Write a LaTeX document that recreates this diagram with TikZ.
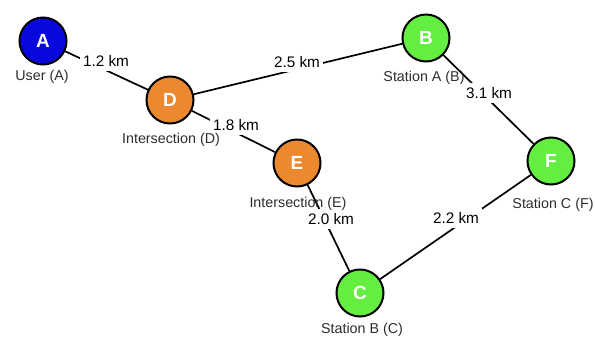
\documentclass[tikz,border=0pt]{standalone}
\usepackage{fontspec}
\setmainfont{Liberation Sans}
\definecolor{nblue}{RGB}{8,8,222}
\definecolor{norange}{RGB}{236,136,48}
\definecolor{ngreen}{RGB}{100,238,66}
\definecolor{ltext}{RGB}{45,45,45}
\tikzset{
  vert/.style={circle, draw=black, line width=2pt, minimum size=47pt, inner sep=0pt,
    text=white, font=\fontsize{19}{19}\selectfont\bfseries},
  vlabel/.style={text=ltext, font=\fontsize{14.3}{15}\selectfont, inner sep=1pt},
  elabel/.style={fill=white, text=black, font=\fontsize{15.3}{16}\selectfont, inner xsep=3pt, inner ysep=4.5pt},
  road/.style={line width=1.7pt, black}
}
\begin{document}
\begin{tikzpicture}[x=1pt,y=-1pt]
\useasboundingbox[fill=white] (0,0) rectangle (595,339);
\node[vert, fill=nblue]   (A) at (43,41)  {A};
\node[vert, fill=norange] (D) at (170,100) {D};
\node[vert, fill=ngreen]  (B) at (426,38) {B};
\node[vert, fill=norange] (E) at (297,163) {E};
\node[vert, fill=ngreen]  (F) at (551,161) {F};
\node[vert, fill=ngreen]  (C) at (360,293) {C};
\draw[road] (A) -- (D);
\draw[road] (D) -- (B);
\draw[road] (B) -- (F);
\draw[road] (D) -- (E);
\draw[road] (E) -- (C);
\draw[road] (C) -- (F);
\node[elabel] (eAD) at (106,61) {1.2 km};
\node[elabel] (eDB) at (297,62) {2.5 km};
\node[elabel] (eBF) at (489,93) {3.1 km};
\node[elabel] (eDE) at (236,125) {1.8 km};
\node[elabel] (eEC) at (331,219) {2.0 km};
\node[elabel] (eCF) at (456,218) {2.2 km};
\node[vlabel] (lA) at (42,77)  {User (A)};
\node[vlabel] (lD) at (171,140) {Intersection (D)};
\node[vlabel] (lB) at (424,78) {Station A (B)};
\node[vlabel] (lE) at (298,204) {Intersection (E)};
\node[vlabel] (lF) at (553,205) {Station C (F)};
\node[vlabel] (lC) at (362,330) {Station B (C)};
\end{tikzpicture}
\end{document}
